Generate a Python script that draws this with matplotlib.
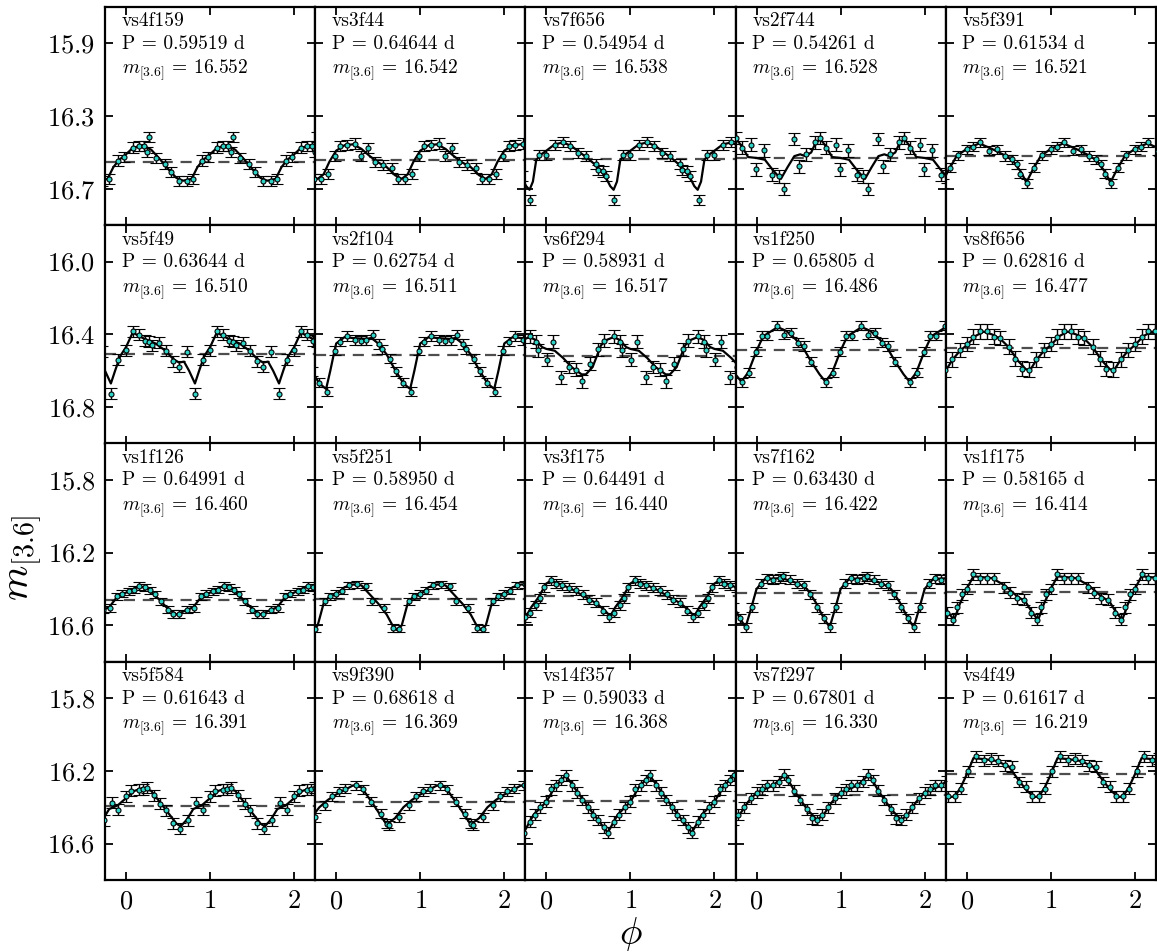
import numpy as np
import matplotlib
matplotlib.use("Agg")
import matplotlib.pyplot as plt

plt.rcParams["font.family"] = "serif"
plt.rcParams["font.serif"] = ["cmr10", "DejaVu Serif"]
plt.rcParams["mathtext.fontset"] = "cm"
plt.rcParams["axes.formatter.use_mathtext"] = True

# star names, periods (d) and mean [3.6] magnitudes, row by row
names = ["vs4f159", "vs3f44", "vs7f656", "vs2f744", "vs5f391",
         "vs5f49", "vs2f104", "vs6f294", "vs1f250", "vs8f656",
         "vs1f126", "vs5f251", "vs3f175", "vs7f162", "vs1f175",
         "vs5f584", "vs9f390", "vs14f357", "vs7f297", "vs4f49"]
periods = [0.59519, 0.64644, 0.54954, 0.54261, 0.61534,
           0.63644, 0.62754, 0.58931, 0.65805, 0.62816,
           0.64991, 0.58950, 0.64491, 0.63430, 0.58165,
           0.61643, 0.68618, 0.59033, 0.67801, 0.61617]
means = [16.552, 16.542, 16.538, 16.528, 16.521,
         16.510, 16.511, 16.517, 16.486, 16.477,
         16.460, 16.454, 16.440, 16.422, 16.414,
         16.391, 16.369, 16.368, 16.330, 16.219]

# y range and ticks of each row
row_ylim = [(16.9, 15.7), (17.0, 15.8), (16.8, 15.6), (16.8, 15.6)]
row_yticks = [[15.9, 16.3, 16.7], [16.0, 16.4, 16.8], [15.8, 16.2, 16.6], [15.8, 16.2, 16.6]]

# photometry: phase and magnitude of each point (one cycle)
pt_phase = [
    [0.08, 0.15, 0.21, 0.25, 0.27, 0.36, 0.46, 0.54, 0.63, 0.72, 0.80, 0.90, 0.98],
    [0.05, 0.13, 0.22, 0.30, 0.38, 0.46, 0.56, 0.66, 0.74, 0.82, 0.90, 0.98],
    [0.00, 0.10, 0.20, 0.28, 0.38, 0.47, 0.59, 0.61, 0.67, 0.71, 0.81, 0.91],
    [0.09, 0.19, 0.27, 0.33, 0.45, 0.51, 0.59, 0.69, 0.75, 0.83, 0.94, 0.99],
    [0.00, 0.07, 0.16, 0.27, 0.36, 0.45, 0.54, 0.60, 0.64, 0.72, 0.80, 0.90],
    [0.00, 0.08, 0.15, 0.22, 0.27, 0.31, 0.39, 0.47, 0.56, 0.63, 0.72, 0.82, 0.91],
    [0.05, 0.13, 0.22, 0.30, 0.36, 0.44, 0.51, 0.55, 0.64, 0.71, 0.79, 0.89, 0.98],
    [0.01, 0.08, 0.18, 0.27, 0.35, 0.42, 0.52, 0.62, 0.69, 0.80, 0.88, 0.90],
    [0.06, 0.13, 0.24, 0.33, 0.41, 0.49, 0.56, 0.65, 0.83, 0.91, 0.99],
    [0.00, 0.08, 0.16, 0.24, 0.32, 0.40, 0.50, 0.58, 0.66, 0.74, 0.83, 0.92],
    [0.04, 0.10, 0.16, 0.22, 0.28, 0.34, 0.42, 0.50, 0.56, 0.63, 0.73, 0.81, 0.89, 0.95],
    [0.00, 0.07, 0.15, 0.25, 0.35, 0.43, 0.57, 0.68, 0.75, 0.87, 0.93],
    [0.05, 0.11, 0.19, 0.27, 0.35, 0.43, 0.51, 0.59, 0.67, 0.75, 0.80, 0.88, 0.92, 0.97],
    [0.05, 0.12, 0.20, 0.28, 0.32, 0.40, 0.48, 0.56, 0.64, 0.72, 0.80, 0.87, 0.95],
    [0.00, 0.08, 0.16, 0.24, 0.32, 0.44, 0.52, 0.60, 0.68, 0.76, 0.84, 0.88, 0.94],
    [0.00, 0.06, 0.15, 0.20, 0.25, 0.33, 0.41, 0.47, 0.56, 0.64, 0.74, 0.83, 0.91],
    [0.03, 0.11, 0.23, 0.32, 0.42, 0.53, 0.60, 0.63, 0.75, 0.87, 0.95],
    [0.00, 0.06, 0.12, 0.18, 0.23, 0.30, 0.36, 0.42, 0.50, 0.56, 0.62, 0.68, 0.73, 0.80, 0.86, 0.93],
    [0.00, 0.06, 0.12, 0.20, 0.27, 0.33, 0.38, 0.45, 0.52, 0.60, 0.66, 0.72, 0.78, 0.85, 0.93],
    [0.02, 0.11, 0.21, 0.29, 0.37, 0.46, 0.54, 0.62, 0.70, 0.78, 0.86, 0.93],
]
pt_mag = [
    [16.473, 16.466, 16.464, 16.496, 16.414, 16.529, 16.563, 16.608, 16.656, 16.656, 16.645, 16.544, 16.526],
    [16.464, 16.459, 16.451, 16.520, 16.474, 16.552, 16.567, 16.586, 16.645, 16.645, 16.619, 16.520],
    [16.512, 16.457, 16.444, 16.466, 16.504, 16.521, 16.563, 16.597, 16.604, 16.628, 16.760, 16.512],
    [16.487, 16.621, 16.630, 16.701, 16.426, 16.575, 16.510, 16.445, 16.421, 16.473, 16.458, 16.593],
    [16.482, 16.469, 16.445, 16.491, 16.482, 16.519, 16.538, 16.565, 16.617, 16.668, 16.584, 16.515],
    [16.487, 16.384, 16.403, 16.435, 16.440, 16.459, 16.446, 16.491, 16.547, 16.577, 16.496, 16.726, 16.539],
    [16.440, 16.409, 16.431, 16.435, 16.431, 16.403, 16.453, 16.483, 16.534, 16.603, 16.665, 16.715, 16.491],
    [16.539, 16.440, 16.637, 16.580, 16.595, 16.659, 16.562, 16.483, 16.435, 16.410, 16.440, 16.487],
    [16.408, 16.408, 16.352, 16.403, 16.390, 16.445, 16.464, 16.551, 16.663, 16.612, 16.495],
    [16.453, 16.412, 16.384, 16.384, 16.412, 16.421, 16.468, 16.533, 16.588, 16.594, 16.538, 16.486],
    [16.412, 16.403, 16.384, 16.390, 16.408, 16.430, 16.467, 16.513, 16.537, 16.537, 16.513, 16.504, 16.440, 16.425],
    [16.427, 16.410, 16.379, 16.375, 16.385, 16.467, 16.504, 16.615, 16.618, 16.467, 16.440],
    [16.353, 16.372, 16.379, 16.394, 16.408, 16.430, 16.458, 16.476, 16.520, 16.556, 16.530, 16.490, 16.450, 16.390],
    [16.370, 16.340, 16.350, 16.340, 16.330, 16.350, 16.370, 16.380, 16.430, 16.500, 16.560, 16.610, 16.500],
    [16.400, 16.320, 16.340, 16.340, 16.340, 16.390, 16.420, 16.450, 16.460, 16.530, 16.570, 16.500, 16.430],
    [16.340, 16.310, 16.303, 16.300, 16.292, 16.334, 16.380, 16.417, 16.487, 16.518, 16.472, 16.375, 16.414],
    [16.313, 16.298, 16.280, 16.300, 16.370, 16.436, 16.490, 16.500, 16.455, 16.390, 16.340],
    [16.370, 16.300, 16.280, 16.250, 16.225, 16.280, 16.320, 16.360, 16.400, 16.440, 16.470, 16.510, 16.540, 16.480, 16.440, 16.400],
    [16.320, 16.300, 16.280, 16.280, 16.260, 16.220, 16.250, 16.310, 16.360, 16.410, 16.460, 16.470, 16.440, 16.400, 16.350],
    [16.202, 16.119, 16.141, 16.132, 16.145, 16.169, 16.178, 16.261, 16.288, 16.340, 16.340, 16.298],
]
pt_err = [0.028, 0.028, 0.028, 0.035, 0.025,
          0.03, 0.025, 0.035, 0.025, 0.04,
          0.02, 0.02, 0.025, 0.025, 0.03,
          0.03, 0.025, 0.03, 0.03, 0.03]

# template fit: phase and magnitude knots of each curve (one cycle)
fit_phase = [
    [0.0, 0.08, 0.2, 0.3, 0.4, 0.5, 0.6, 0.68, 0.78, 0.85, 0.92],
    [0.0, 0.1, 0.2, 0.3, 0.4, 0.5, 0.6, 0.7, 0.78, 0.85, 0.92],
    [0.0, 0.1, 0.2, 0.3, 0.4, 0.5, 0.6, 0.7, 0.76, 0.8, 0.84, 0.88, 0.94],
    [0.0, 0.1, 0.2, 0.29, 0.37, 0.45, 0.52, 0.58, 0.65, 0.70, 0.76, 0.83, 0.9],
    [0.0, 0.15, 0.3, 0.45, 0.55, 0.65, 0.71, 0.78, 0.88],
    [0.0, 0.08, 0.2, 0.35, 0.47, 0.56, 0.63, 0.69, 0.75, 0.82, 0.87, 0.93],
    [0.0, 0.1, 0.2, 0.35, 0.42, 0.5, 0.6, 0.7, 0.8, 0.88, 0.93, 0.98],
    [0.0, 0.1, 0.2, 0.3, 0.42, 0.47, 0.55, 0.65, 0.72, 0.8, 0.87, 0.95],
    [0.0, 0.08, 0.15, 0.25, 0.35, 0.45, 0.55, 0.65, 0.75, 0.82, 0.9],
    [0.0, 0.1, 0.2, 0.3, 0.4, 0.5, 0.6, 0.7, 0.75, 0.83, 0.92],
    [0.0, 0.15, 0.25, 0.4, 0.5, 0.6, 0.7, 0.8, 0.9],
    [0.0, 0.1, 0.2, 0.3, 0.4, 0.5, 0.6, 0.67, 0.72, 0.78, 0.85, 0.92],
    [0.0, 0.05, 0.15, 0.3, 0.45, 0.6, 0.7, 0.76, 0.82, 0.9],
    [0.0, 0.1, 0.3, 0.5, 0.6, 0.7, 0.8, 0.87, 0.94],
    [0.0, 0.08, 0.3, 0.45, 0.6, 0.7, 0.78, 0.85, 0.92],
    [0.0, 0.1, 0.2, 0.3, 0.4, 0.5, 0.6, 0.65, 0.72, 0.8, 0.9],
    [0.0, 0.2, 0.3, 0.45, 0.6, 0.7, 0.8, 0.9],
    [0.0, 0.1, 0.23, 0.5, 0.73, 0.85],
    [0.0, 0.2, 0.27, 0.34, 0.45, 0.6, 0.72, 0.8, 0.9],
    [0.0, 0.08, 0.2, 0.35, 0.5, 0.6, 0.7, 0.8, 0.86, 0.93],
]
fit_mag = [
    [16.51, 16.475, 16.46, 16.485, 16.535, 16.59, 16.64, 16.655, 16.645, 16.58, 16.54],
    [16.49, 16.46, 16.455, 16.48, 16.52, 16.555, 16.58, 16.625, 16.645, 16.62, 16.55],
    [16.49, 16.455, 16.445, 16.465, 16.50, 16.535, 16.575, 16.63, 16.685, 16.705, 16.66, 16.54, 16.51],
    [16.53, 16.54, 16.60, 16.645, 16.58, 16.52, 16.51, 16.52, 16.50, 16.45, 16.425, 16.47, 16.525],
    [16.48, 16.45, 16.48, 16.515, 16.545, 16.61, 16.665, 16.60, 16.52],
    [16.47, 16.39, 16.42, 16.45, 16.49, 16.535, 16.555, 16.55, 16.60, 16.67, 16.60, 16.52],
    [16.45, 16.415, 16.42, 16.425, 16.42, 16.45, 16.51, 16.595, 16.67, 16.70, 16.60, 16.49],
    [16.48, 16.49, 16.53, 16.58, 16.62, 16.62, 16.58, 16.46, 16.43, 16.415, 16.43, 16.47],
    [16.49, 16.41, 16.39, 16.36, 16.38, 16.42, 16.47, 16.55, 16.62, 16.66, 16.61],
    [16.46, 16.41, 16.385, 16.40, 16.425, 16.47, 16.54, 16.59, 16.60, 16.54, 16.49],
    [16.42, 16.385, 16.395, 16.46, 16.51, 16.54, 16.52, 16.50, 16.44],
    [16.43, 16.39, 16.375, 16.38, 16.43, 16.48, 16.54, 16.60, 16.625, 16.60, 16.48, 16.44],
    [16.37, 16.355, 16.37, 16.40, 16.44, 16.48, 16.52, 16.55, 16.50, 16.45],
    [16.40, 16.345, 16.34, 16.37, 16.40, 16.47, 16.56, 16.61, 16.50],
    [16.40, 16.33, 16.34, 16.38, 16.44, 16.47, 16.53, 16.57, 16.48],
    [16.35, 16.31, 16.295, 16.31, 16.37, 16.43, 16.49, 16.505, 16.47, 16.41, 16.39],
    [16.33, 16.28, 16.29, 16.39, 16.495, 16.46, 16.40, 16.36],
    [16.37, 16.29, 16.225, 16.40, 16.54, 16.44],
    [16.32, 16.28, 16.25, 16.22, 16.31, 16.41, 16.47, 16.44, 16.37],
    [16.22, 16.13, 16.135, 16.145, 16.175, 16.24, 16.30, 16.345, 16.34, 16.29],
]

cyan = "#2ed3c6"
cycles = [-1, 0, 1, 2]

fig, axes = plt.subplots(4, 5, figsize=(11.57, 9.52), dpi=100)
fig.subplots_adjust(left=105 / 1157, right=0.999, top=1 - 7 / 952,
                    bottom=1 - 880 / 952, wspace=0, hspace=0)

for i, ax in enumerate(axes.flat):
    r, c = divmod(i, 5)
    ph = np.array(pt_phase[i])
    mg = np.array(pt_mag[i])
    fp = np.array(fit_phase[i])
    fm = np.array(fit_mag[i])

    # repeat each cycle so the curve covers the whole phase window
    x_fit = np.concatenate([fp + k for k in cycles] + [[3.0]])
    y_fit = np.concatenate([fm for k in cycles] + [[fm[0]]])
    ax.plot(x_fit, y_fit, color="k", lw=1.6, zorder=2)

    ax.axhline(means[i], color="0.3", lw=1.6, ls=(0, (5, 3.5)), zorder=1)

    x_pt = np.concatenate([ph + k for k in cycles])
    y_pt = np.tile(mg, len(cycles))
    ax.errorbar(x_pt, y_pt, yerr=pt_err[i], fmt="o", ms=3.6, mfc=cyan,
                mec="k", mew=0.8, ecolor="k", elinewidth=1.0, capsize=4.2,
                capthick=1.0, zorder=3)

    txt = (f"{names[i]}\nP = {periods[i]:.5f} d\n"
           f"$m_{{[3.6]}}$ = {means[i]:.3f}")
    ax.text(0.08, 0.975, txt, transform=ax.transAxes, va="top", ha="left",
            fontsize=14, linespacing=1.32)

    ax.set_xlim(-0.25, 2.25)
    ax.set_ylim(*row_ylim[r])
    ax.set_xticks([0, 1, 2])
    ax.set_yticks(row_yticks[r])
    ax.tick_params(direction="in", length=6, width=1.3, top=True, right=True,
                   labelsize=19, pad=7)
    for s in ax.spines.values():
        s.set_linewidth(1.6)
    if c > 0:
        ax.set_yticklabels([])
    if r < 3:
        ax.set_xticklabels([])

fig.text(0.022, 1 - 558 / 952, r"$m_{[3.6]}$", rotation=90, fontsize=29,
         ha="center", va="center")
fig.text(0.545, 1 - 934 / 952, r"$\phi$", fontsize=27, ha="center",
         va="center")

fig.savefig("out.png", dpi=100)
